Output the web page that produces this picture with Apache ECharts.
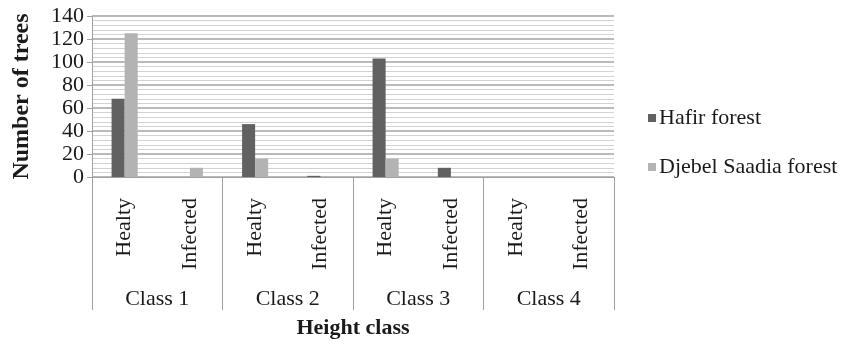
<!DOCTYPE html>
<html>
<head>
<meta charset="utf-8">
<script src="https://cdn.jsdelivr.net/npm/echarts@6/dist/echarts.min.js"></script>
<style>
  html, body { margin: 0; padding: 0; background: #fff; }
  #chart { width: 843px; height: 345px; }
</style>
</head>
<body>
<div id="chart"></div>
<script>
// Tree health counts per height class, two forests
const statusLabels = ['Healty', 'Infected', 'Healty', 'Infected', 'Healty', 'Infected', 'Healty', 'Infected'];
const classLabels = ['Class 1', 'Class 2', 'Class 3', 'Class 4'];
const seriesNames = ['Hafir forest', 'Djebel Saadia forest'];
const hafirValues = [68, 0, 46, 1, 103, 8, 0, 0];
const djebelValues = [125, 8, 16, 0, 16, 0, 0, 0];
const yTicks = { min: 0, max: 140, interval: 20 };

const FONT = '"Liberation Serif", "Times New Roman", serif';
const TEXT = '#1a1a1a';

const chart = echarts.init(document.getElementById('chart'));
chart.setOption({
  animation: false,
  grid: { left: 92, right: 229, top: 16, bottom: 168, containLabel: false },
  legend: {
    orient: 'vertical',
    left: 643,
    top: 102,
    itemWidth: 8,
    itemHeight: 8,
    itemGap: 27,
    icon: 'rect',
    textStyle: { fontFamily: FONT, fontSize: 22, color: TEXT, padding: [0, 0, 0, -2] },
    data: seriesNames
  },
  xAxis: [
    {
      type: 'category',
      data: statusLabels,
      position: 'bottom',
      axisLine: { show: false },
      axisTick: { show: false },
      axisLabel: {
        rotate: 90,
        margin: 21,
        fontFamily: FONT,
        fontSize: 22,
        color: TEXT
      }
    },
    {
      type: 'category',
      data: classLabels,
      position: 'bottom',
      axisLine: { show: true, lineStyle: { color: '#a0a0a0', width: 1 } },
      axisTick: { show: true, length: 133, lineStyle: { color: '#a0a0a0', width: 1 } },
      axisLabel: {
        margin: 111,
        fontFamily: FONT,
        fontSize: 22,
        color: TEXT
      },
      name: 'Height class',
      nameLocation: 'middle',
      nameGap: 140,
      nameTextStyle: { fontFamily: FONT, fontSize: 22, fontWeight: 'bold', color: TEXT }
    }
  ],
  yAxis: {
    type: 'value',
    min: yTicks.min,
    max: yTicks.max,
    interval: yTicks.interval,
    name: 'Number of trees',
    nameLocation: 'middle',
    nameGap: 58,
    nameTextStyle: { fontFamily: FONT, fontSize: 24, fontWeight: 'bold', color: TEXT },
    axisLine: { show: true, lineStyle: { color: '#a0a0a0', width: 1 } },
    axisTick: { show: true, length: 5, lineStyle: { color: '#a0a0a0' } },
    axisLabel: { margin: 8, fontFamily: FONT, fontSize: 22, color: TEXT },
    splitLine: { show: true, lineStyle: { color: '#a3a3a3', width: 1.5 } },
    minorTick: { show: false, splitNumber: 5 },
    minorSplitLine: { show: true, lineStyle: { color: '#d2d2d2', width: 1 } }
  },
  series: [
    {
      name: seriesNames[0],
      type: 'bar',
      xAxisIndex: 0,
      data: hafirValues,
      barWidth: '20%',
      barGap: '0%',
      itemStyle: { color: '#616161' }
    },
    {
      name: seriesNames[1],
      type: 'bar',
      xAxisIndex: 0,
      data: djebelValues,
      barWidth: '20%',
      barGap: '0%',
      itemStyle: { color: '#b3b3b3' }
    }
  ]
});
</script>
</body>
</html>
